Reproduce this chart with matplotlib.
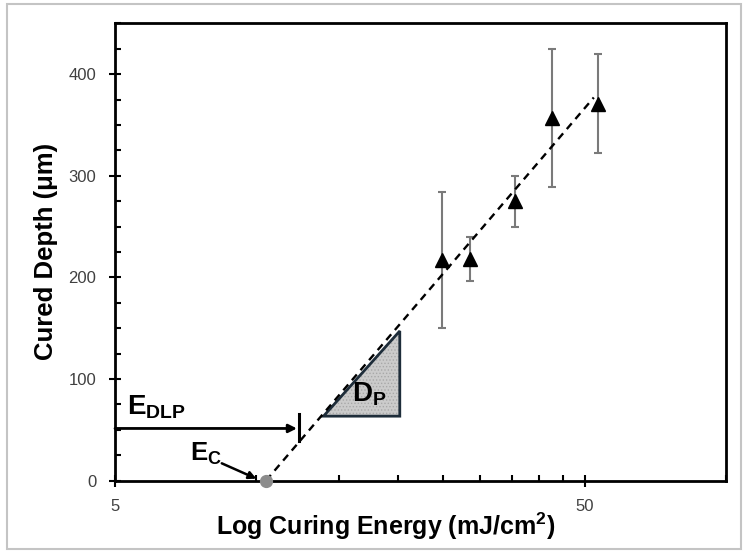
import numpy as np
import matplotlib
matplotlib.use('Agg')
import matplotlib.pyplot as plt
from matplotlib.patches import Polygon, Rectangle
from matplotlib.ticker import FixedLocator, FixedFormatter, NullFormatter

# ---- data ----
energy = [24.9, 28.5, 35.6, 42.7, 53.4]          # mJ/cm2
depth = [217, 218, 275, 357, 371]                # um
depth_err = [67, 22, 25, 68, 49]

fit_E = [10.48, 52.3]          # dashed fit line end points
fit_depth = [0, 377]
Ec = 10.48

E_dlp = 12.34
E_dlp_arrow_end = 12.2
E_dlp_depth = 51.4
E_dlp_bar = [39, 66]

tri_E = [13.9, 20.2, 20.2]
tri_depth = [63.5, 63.5, 147.3]

x_major = [5, 50]
x_major_labels = ['5', '50']
x_minor = [10, 15, 20, 25, 30, 35, 40, 45, 100]
y_major = [0, 100, 200, 300, 400]
y_minor = list(range(0, 451, 25))

plt.rcParams['font.family'] = ['Liberation Sans', 'DejaVu Sans']
plt.rcParams['mathtext.fontset'] = 'custom'
plt.rcParams['mathtext.rm'] = 'Liberation Sans'
plt.rcParams['mathtext.bf'] = 'Liberation Sans:bold'
plt.rcParams['hatch.linewidth'] = 0.6

fig = plt.figure(figsize=(7.46, 5.52), dpi=100)
ax = fig.add_axes([115/746, 1-480.7/552, 611/746, 457.4/552])

# outer light border
fig.patches.append(Rectangle((7/746, 3/552), 734/746, 545/552, transform=fig.transFigure,
                             fill=False, edgecolor='#c4c4c4', lw=1.5))

ax.set_xscale('log')
ax.set_xlim(5, 100)
ax.set_ylim(0, 450)

# triangle Dp
ax.add_patch(Polygon(list(zip(tri_E, tri_depth)), closed=True, facecolor='#cbcbcb',
                     edgecolor='none', zorder=2))
ax.add_patch(Polygon(list(zip(tri_E, tri_depth)), closed=True, fill=False, hatch='.....',
                     edgecolor='#a8a8a8', lw=0, zorder=2))
ax.add_patch(Polygon(list(zip(tri_E, tri_depth)), closed=True, fill=False,
                     edgecolor='#1e2d3a', lw=2, zorder=3))

# fit line
ax.plot(fit_E, fit_depth, color='black', lw=1.7, ls=(0, (3.2, 2.4)), zorder=4)

# data
ax.errorbar(energy, depth, yerr=depth_err, fmt='none', ecolor='#7a7a7a',
            elinewidth=1.5, capsize=3, capthick=1.5, zorder=3)
ax.plot(energy, depth, '^', color='black', ms=10, zorder=5)

# Ec point
ax.plot([Ec], [0], 'o', color='#8c8c8c', ms=8.5, clip_on=False, zorder=10)

# E_DLP arrow
ax.annotate('', xy=(E_dlp_arrow_end, E_dlp_depth), xytext=(5, E_dlp_depth),
            arrowprops=dict(arrowstyle='-|>', color='black', lw=2, mutation_scale=12,
                            shrinkA=0, shrinkB=0), zorder=6)
ax.plot([E_dlp, E_dlp], E_dlp_bar, color='black', lw=2.2, zorder=6)

# Ec arrow
ax.annotate('', xy=(10.0, 2.0), xytext=(8.44, 17.1),
            arrowprops=dict(arrowstyle='-|>', color='black', lw=1.8, mutation_scale=11,
                            shrinkA=0, shrinkB=0), zorder=6)

ax.text(5.3, 65.2, r'$\mathbf{E_{DLP}}$', fontsize=20, ha='left', va='baseline')
ax.text(7.23, 19.3, r'$\mathbf{E_{C}}$', fontsize=18.5, ha='left', va='baseline')
ax.text(16.0, 78.3, r'$\mathbf{D_{P}}$', fontsize=20, ha='left', va='baseline', zorder=7)

# axes styling
for s in ax.spines.values():
    s.set_linewidth(2)
    s.set_color('black')

ax.xaxis.set_major_locator(FixedLocator(x_major))
ax.xaxis.set_major_formatter(FixedFormatter(x_major_labels))
ax.xaxis.set_minor_locator(FixedLocator(x_minor))
ax.xaxis.set_minor_formatter(NullFormatter())
ax.yaxis.set_major_locator(FixedLocator(y_major))
ax.yaxis.set_minor_locator(FixedLocator(y_minor))

ax.tick_params(which='major', direction='inout', length=9, width=1.5, color='black',
               labelcolor='#404040', labelsize=12, pad=9)
ax.tick_params(which='minor', direction='in', length=4, width=1.5, color='black')

ax.text(-0.113, 0.502, 'Cured Depth (μm)', transform=ax.transAxes, rotation=90,
        ha='center', va='center', fontsize=18.5, fontweight='bold')
ax.text(0.443, -0.099, 'Log Curing Energy (mJ/cm$^\\mathbf{2}$)', transform=ax.transAxes,
        ha='center', va='center', fontsize=18, fontweight='bold')

fig.savefig('out.png', dpi=100)
